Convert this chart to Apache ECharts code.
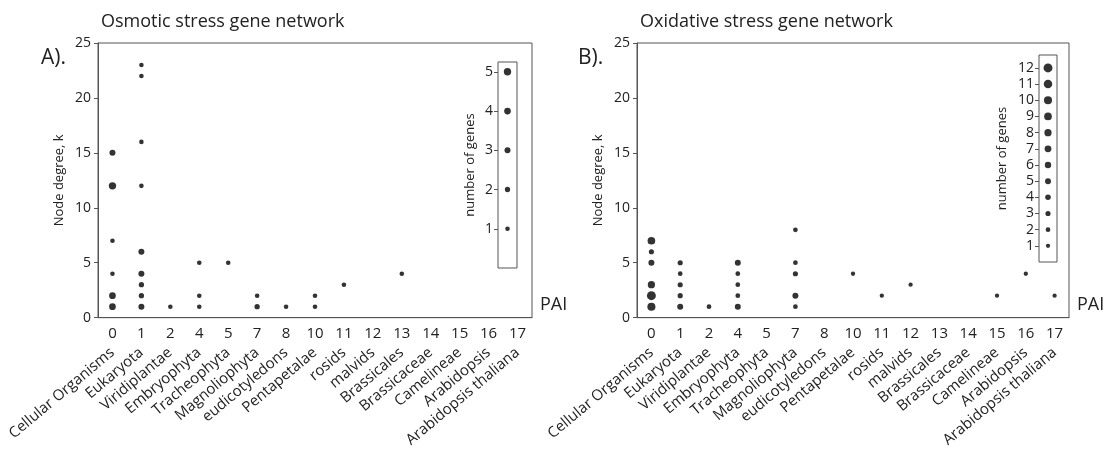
<!DOCTYPE html>
<html>
<head>
<meta charset="utf-8">
<script src="https://cdn.jsdelivr.net/npm/echarts@6/dist/echarts.min.js"></script>
<style>html,body{margin:0;padding:0;background:#fff;}#c{width:1109px;height:450px;}</style>
</head>
<body>
<div id="c"></div>
<script>
// ---- data ----
var paiLabels = ['0','1','2','4','5','7','8','10','11','12','13','14','15','16','17'];
var taxa = ['Cellular Organisms','Eukaryota','Viridiplantae','Embryophyta','Tracheophyta','Magnoliophyta','eudicotyledons','Pentapetalae','rosids','malvids','Brassicales','Brassicaceae','Camelineae','Arabidopsis','Arabidopsis thaliana'];
var yTicks = [0, 5, 10, 15, 20, 25];
// [taxon, node degree k, number of genes]
var osmotic = [
  ['Cellular Organisms',15,3],['Cellular Organisms',12,5],['Cellular Organisms',7,1],['Cellular Organisms',4,1],['Cellular Organisms',2,4],['Cellular Organisms',1,4],
  ['Eukaryota',23,1],['Eukaryota',22,1],['Eukaryota',16,1],['Eukaryota',12,1],['Eukaryota',6,3],['Eukaryota',4,3],['Eukaryota',3,2],['Eukaryota',2,2],['Eukaryota',1,3],
  ['Viridiplantae',1,1],
  ['Embryophyta',5,1],['Embryophyta',2,1],['Embryophyta',1,1],
  ['Tracheophyta',5,1],
  ['Magnoliophyta',2,1],['Magnoliophyta',1,2],
  ['eudicotyledons',1,1],
  ['Pentapetalae',2,1],['Pentapetalae',1,1],
  ['rosids',3,1],
  ['Brassicales',4,1]
];
var oxidative = [
  ['Cellular Organisms',7,9],['Cellular Organisms',6,3],['Cellular Organisms',5,5],['Cellular Organisms',3,8],['Cellular Organisms',2,12],['Cellular Organisms',1,10],
  ['Eukaryota',5,3],['Eukaryota',4,2],['Eukaryota',3,3],['Eukaryota',2,3],['Eukaryota',1,5],
  ['Viridiplantae',1,2],
  ['Embryophyta',5,5],['Embryophyta',4,2],['Embryophyta',3,2],['Embryophyta',2,2],['Embryophyta',1,5],
  ['Magnoliophyta',8,2],['Magnoliophyta',5,2],['Magnoliophyta',4,3],['Magnoliophyta',2,5],['Magnoliophyta',1,2],
  ['Pentapetalae',4,1],
  ['rosids',2,1],
  ['malvids',3,1],
  ['Camelineae',2,1],
  ['Arabidopsis',4,1],
  ['Arabidopsis thaliana',2,1]
];
var osmoticLegend = [1,2,3,4,5];
var oxidativeLegend = [1,2,3,4,5,6,7,8,9,10,11,12];

// ---- styling helpers ----
var FONT = 'Open Sans';
var sizeA = function (v) { return 3.9 + 0.7 * v[2]; };
var sizeB = function (v) { return 3.9 + 0.42 * v[2]; };
var sizeLegA = function (v) { return 3.9 + 0.7 * v[1]; };
var sizeLegB = function (v) { return 3.9 + 0.42 * v[1]; };

function mainX(grid) {
  return [{
    type: 'category', gridIndex: grid, data: paiLabels, boundaryGap: true,
    axisLine: {lineStyle: {color: '#555'}},
    axisTick: {alignWithLabel: true, length: 4, lineStyle: {color: '#555'}},
    axisLabel: {fontFamily: FONT, fontSize: 15, color: '#222', margin: 9, interval: 0},
    splitLine: {show: false},
    name: 'PAI', nameLocation: 'end', nameGap: 8,
    nameTextStyle: {fontFamily: FONT, fontSize: 18, color: '#222', verticalAlign: 'bottom', padding: [0, 0, 4, 0]}
  }, {
    type: 'category', gridIndex: grid, data: taxa, boundaryGap: true, position: 'bottom', offset: 31,
    axisLine: {show: false}, axisTick: {show: false},
    axisLabel: {fontFamily: FONT, fontSize: 15, color: '#222', rotate: 40, margin: 2, interval: 0},
    splitLine: {show: false}
  }];
}
function mainY(grid) {
  return {
    type: 'value', gridIndex: grid, min: 0, max: 25, interval: 5,
    name: 'Node degree, k', nameLocation: 'middle', nameGap: 32,
    nameTextStyle: {fontFamily: FONT, fontSize: 13, color: '#222'},
    axisLine: {show: true, lineStyle: {color: '#555'}},
    axisTick: {show: true, length: 4, lineStyle: {color: '#555'}},
    axisLabel: {fontFamily: FONT, fontSize: 14, color: '#222', margin: 7},
    splitLine: {show: false}
  };
}
function legX(grid) {
  return {type: 'value', gridIndex: grid, min: -1, max: 1, show: false, splitLine: {show: false}};
}
function legY(grid, max, vals, gap) {
  return {
    type: 'value', gridIndex: grid, min: 0, max: max,
    name: 'number of genes', nameLocation: 'middle', nameGap: gap,
    nameTextStyle: {fontFamily: FONT, fontSize: 13, color: '#222'},
    axisLine: {show: false, onZero: false},
    axisTick: {show: true, length: 4, lineStyle: {color: '#555'}, customValues: vals},
    axisLabel: {fontFamily: FONT, fontSize: 14, color: '#222', margin: 5, customValues: vals},
    splitLine: {show: false}
  };
}

var xa = mainX(0), xb = mainX(2);
var option = {
  backgroundColor: '#fff',
  animation: false,
  title: [
    {text: 'Osmotic stress gene network', left: 96, top: 8, textStyle: {fontFamily: FONT, fontSize: 18, fontWeight: 'normal', color: '#222'}},
    {text: 'A).', left: 36, top: 43, textStyle: {fontFamily: FONT, fontSize: 21, fontWeight: 'normal', color: '#222'}},
    {text: 'Oxidative stress gene network', left: 635, top: 8, textStyle: {fontFamily: FONT, fontSize: 18, fontWeight: 'normal', color: '#222'}},
    {text: 'B).', left: 573, top: 43, textStyle: {fontFamily: FONT, fontSize: 21, fontWeight: 'normal', color: '#222'}}
  ],
  grid: [
    {left: 98, top: 43, width: 434, height: 275, show: true, borderColor: '#555', borderWidth: 1},
    {left: 498, top: 62, width: 19, height: 206, show: true, borderColor: '#555', borderWidth: 1, backgroundColor: 'transparent'},
    {left: 637, top: 43, width: 432, height: 275, show: true, borderColor: '#555', borderWidth: 1},
    {left: 1039, top: 55, width: 18, height: 207, show: true, borderColor: '#555', borderWidth: 1, backgroundColor: 'transparent'}
  ],
  xAxis: [xa[0], xa[1], legX(1), xb[0], xb[1], legX(3)],
  yAxis: [mainY(0), legY(1, 5.25, osmoticLegend, 21), mainY(2), legY(3, 12.8, oxidativeLegend, 30)],
  series: [
    {type: 'scatter', xAxisIndex: 1, yAxisIndex: 0, data: osmotic, symbolSize: sizeA, itemStyle: {color: '#000'}},
    {type: 'scatter', xAxisIndex: 2, yAxisIndex: 1, data: osmoticLegend.map(function (n) { return [0, n]; }), symbolSize: sizeLegA, itemStyle: {color: '#000'}},
    {type: 'scatter', xAxisIndex: 4, yAxisIndex: 2, data: oxidative, symbolSize: sizeB, itemStyle: {color: '#000'}},
    {type: 'scatter', xAxisIndex: 5, yAxisIndex: 3, data: oxidativeLegend.map(function (n) { return [0, n]; }), symbolSize: sizeLegB, itemStyle: {color: '#000'}}
  ]
};
var chart = echarts.init(document.getElementById('c'), null, {renderer: 'canvas'});
chart.setOption(option);
</script>
</body>
</html>
